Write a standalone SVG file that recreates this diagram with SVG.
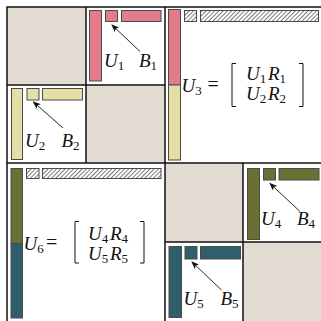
<svg xmlns="http://www.w3.org/2000/svg" width="321" height="321" viewBox="0 0 321 321">
<style>
.frame{fill:none;stroke:#111;stroke-width:1.5}
.beige{fill:#e3dcd2}
.blk{stroke:#4a4a4a;stroke-width:1}
.pink{fill:#e37b8b}
.yel{fill:#e4dfa6}
.olive{fill:#6a7033}
.teal{fill:#2f5f6b}
.hat{fill:url(#hatch)}
.arrow{stroke:#111;stroke-width:0.9;fill:none;marker-end:url(#ah)}
text{font-family:"Liberation Serif","DejaVu Serif",serif;font-size:19px;font-style:italic;fill:#111}
.sub{font-size:13px;font-style:normal}
.op{font-style:normal;font-size:20px}
.br{fill:none;stroke:#111;stroke-width:1}
</style>
<defs>
<pattern id="hatch" patternUnits="userSpaceOnUse" width="3" height="3" patternTransform="rotate(45)">
<rect width="3" height="3" fill="#fff"/>
<line x1="0" y1="0" x2="0" y2="3" stroke="#222" stroke-width="1.2"/>
</pattern>
<marker id="ah" markerUnits="userSpaceOnUse" markerWidth="8" markerHeight="8" viewBox="0 0 8 8" refX="7" refY="4" orient="auto">
<path d="M0,0.8 L8,4 L0,7.2 L2,4 Z" fill="#111"/>
</marker>
</defs>
<rect x="0" y="0" width="321" height="321" fill="#fff"/>

<g id="background">
<rect class="beige" x="7" y="7" width="79" height="78"/>
<rect class="beige" x="86" y="85" width="79" height="78"/>
<rect class="beige" x="165" y="163" width="78" height="79"/>
<rect class="beige" x="243" y="242" width="78" height="79"/>
</g>

<g id="node-B1">
<rect class="blk pink" x="89.5" y="10.5" width="12" height="70.5"/>
<rect class="blk pink" x="105.5" y="10.5" width="12" height="11"/>
<rect class="blk pink" x="121.5" y="10.5" width="39.5" height="11"/>
<text x="104" y="67">U<tspan class="sub" dy="3">1</tspan></text>
<text x="139" y="67">B<tspan class="sub" dy="3">1</tspan></text>
</g>

<g id="node-B2">
<rect class="blk yel" x="11.5" y="88.5" width="11" height="71"/>
<rect class="blk yel" x="27" y="88.5" width="12" height="11.5"/>
<rect class="blk yel" x="42.5" y="88.5" width="40" height="11.5"/>
<text x="25" y="147">U<tspan class="sub" dy="3">2</tspan></text>
<text x="61.5" y="147">B<tspan class="sub" dy="3">2</tspan></text>
</g>

<g id="node-U3">
<rect class="blk pink" x="168.5" y="9.5" width="12" height="75.5"/>
<rect class="blk yel" x="168.5" y="85" width="12" height="75"/>
<rect class="blk hat" x="184.5" y="10.5" width="12" height="11"/>
<rect class="blk hat" x="200.5" y="10.5" width="118" height="11"/>
<text x="181.5" y="92">U<tspan class="sub" dy="3">3</tspan></text>
<text class="op" x="207.5" y="91">=</text>
<path class="br" d="M236,63.5 H232 V106.5 H236"/>
<path class="br" d="M299,63.5 H303 V106.5 H299"/>
<text x="246" y="80">U<tspan class="sub" dy="3">1</tspan><tspan x="268" dy="-3">R</tspan><tspan class="sub" dy="3">1</tspan></text>
<text x="246" y="100">U<tspan class="sub" dy="3">2</tspan><tspan x="268" dy="-3">R</tspan><tspan class="sub" dy="3">2</tspan></text>
</g>

<g id="node-B4">
<rect class="blk olive" x="247.5" y="168.5" width="12" height="71"/>
<rect class="blk olive" x="263.5" y="168.5" width="12" height="11.5"/>
<rect class="blk olive" x="279" y="168.5" width="40" height="11.5"/>
<text x="261" y="225">U<tspan class="sub" dy="3">4</tspan></text>
<text x="297" y="225">B<tspan class="sub" dy="3">4</tspan></text>
</g>

<g id="node-B5">
<rect class="blk teal" x="169" y="246.5" width="12.5" height="71"/>
<rect class="blk teal" x="185" y="246.5" width="12" height="12.5"/>
<rect class="blk teal" x="200.5" y="246.5" width="40" height="12.5"/>
<text x="183.5" y="305">U<tspan class="sub" dy="3">5</tspan></text>
<text x="220.5" y="305">B<tspan class="sub" dy="3">5</tspan></text>
</g>

<g id="node-U6">
<rect class="blk olive" x="11" y="168.5" width="11.5" height="75"/>
<rect class="blk teal" x="11" y="243.5" width="11.5" height="74.5"/>
<rect class="blk hat" x="26.5" y="168.5" width="12.5" height="10"/>
<rect class="blk hat" x="42.5" y="168.5" width="118.5" height="10"/>
<text x="23.5" y="250">U<tspan class="sub" dy="3">6</tspan></text>
<text class="op" x="46" y="249">=</text>
<path class="br" d="M79,221.5 H75 V263 H79"/>
<path class="br" d="M140,221.5 H144 V263 H140"/>
<text x="88" y="239.5">U<tspan class="sub" dy="3">4</tspan><tspan x="110" dy="-3">R</tspan><tspan class="sub" dy="3">4</tspan></text>
<text x="88" y="260">U<tspan class="sub" dy="3">5</tspan><tspan x="110" dy="-3">R</tspan><tspan class="sub" dy="3">5</tspan></text>
</g>

<g id="grid">
<path class="frame" d="M7,321 V7 H321"/>
<line class="frame" x1="165" y1="7" x2="165" y2="321"/>
<line class="frame" x1="7" y1="163" x2="321" y2="163"/>
<line class="frame" x1="86" y1="7" x2="86" y2="163"/>
<line class="frame" x1="7" y1="85" x2="165" y2="85"/>
<line class="frame" x1="243" y1="163" x2="243" y2="321"/>
<line class="frame" x1="165" y1="242" x2="321" y2="242"/>
</g>

<g id="connectors">
<line class="arrow" x1="140" y1="51.5" x2="112" y2="25"/>
<line class="arrow" x1="63" y1="128" x2="33.5" y2="102"/>
<line class="arrow" x1="300" y1="211.5" x2="270" y2="183.5"/>
<line class="arrow" x1="221.5" y1="290" x2="192" y2="262"/>
</g>
</svg>
